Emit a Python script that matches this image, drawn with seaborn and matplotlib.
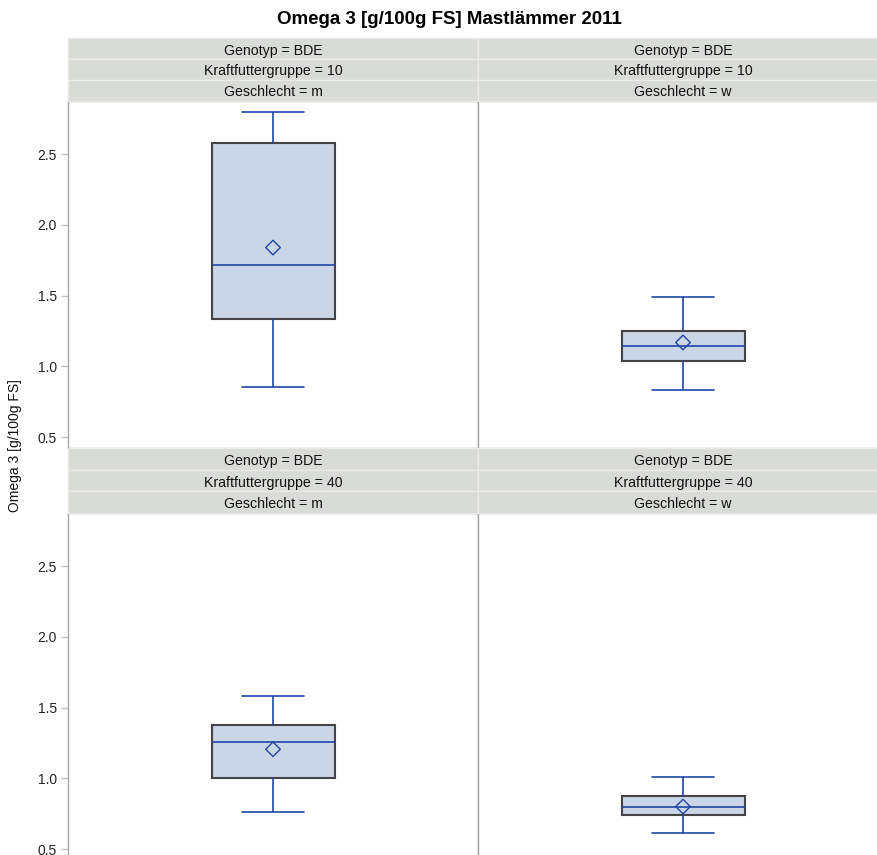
import numpy as np
import pandas as pd
import matplotlib
matplotlib.use("Agg")
import matplotlib.pyplot as plt
from matplotlib.patches import Rectangle
import seaborn as sns

# five number summary per group (min, Q1, median, Q3, max) + mean
gruppen = ["10", "10", "40", "40"]
geschlecht = ["m", "w", "m", "w"]
minimum = [0.85, 0.83, 0.76, 0.615]
q1 = [1.337, 1.035, 1.0, 0.74]
median = [1.718, 1.14, 1.257, 0.797]
q3 = [2.578, 1.248, 1.378, 0.875]
maximum = [2.797, 1.487, 1.578, 1.01]
mittel = [1.839, 1.168, 1.205, 0.80]

rows = []
for i in range(4):
    for v in (minimum[i], q1[i], median[i], q3[i], maximum[i]):
        rows.append({"Kraftfuttergruppe": gruppen[i], "Geschlecht": geschlecht[i], "Omega3": v})
df = pd.DataFrame(rows)

sns.set_style("white")
plt.rcParams['font.family'] = ['Liberation Sans', 'DejaVu Sans']

W, H = 877, 855
fig = plt.figure(figsize=(W / 100, H / 100), dpi=100)

blue = "#1F45A6"
boxfill = "#CAD5E5"
hdrfill = "#D9DBD6"
spinec = "#A5A5A5"

ylo, yhi = 0.4223, 2.8746
pw, ph = 410, 347
lefts = [68, 478]
tops = [101, 513]

def fx(px):
    return px / W

def fy(py):
    return 1 - py / H

for i in range(4):
    r, c = divmod(i, 2)
    x0, y0 = lefts[c], tops[r]
    ax = fig.add_axes([fx(x0), fy(y0 + ph), pw / W, ph / H])
    sub = df[(df.Kraftfuttergruppe == gruppen[i]) & (df.Geschlecht == geschlecht[i])]
    sns.boxplot(y=sub["Omega3"], ax=ax, whis=np.inf, width=0.3,
                color=boxfill, linecolor=blue, linewidth=1.2, saturation=1,
                boxprops=dict(facecolor=boxfill, edgecolor="#444444", linewidth=1.5),
                whiskerprops=dict(color=blue, linewidth=1.2),
                capprops=dict(color=blue, linewidth=1.2),
                medianprops=dict(color=blue, linewidth=1.2))
    sns.scatterplot(x=[0], y=[mittel[i]], ax=ax, marker="D", s=55,
                    facecolor="none", edgecolor=blue, linewidth=1.0, zorder=5)
    ax.set_xlim(-0.5, 0.5)
    ax.set_ylim(ylo, yhi)
    ax.set_yticks([0.5, 1.0, 1.5, 2.0, 2.5])
    ax.set_xticks([])
    ax.set_xlabel("")
    ax.set_ylabel("")
    for s in ax.spines.values():
        s.set_color(spinec)
        s.set_linewidth(1.0)
    if c == 0:
        ax.tick_params(axis="y", left=True, length=5, width=1, color="#C0C0C0",
                       labelsize=10, labelcolor="#222222", pad=3)
        ax.set_yticklabels(["0.5", "1.0", "1.5", "2.0", "2.5"])
    else:
        ax.tick_params(axis="y", left=False, labelleft=False)

    # header strips
    labels = ["Genotyp = BDE", "Kraftfuttergruppe = " + gruppen[i], "Geschlecht = " + geschlecht[i]]
    htop = 38 if r == 0 else 448
    hh = (y0 - htop) / 3
    for k, lab in enumerate(labels):
        yy = htop + k * hh
        fig.patches.append(Rectangle((fx(x0), fy(yy + hh)), pw / W, hh / H,
                                     transform=fig.transFigure, facecolor=hdrfill,
                                     edgecolor="#E9E9E7", linewidth=1.0, zorder=3))
        fig.text(fx(x0 + pw / 2), fy(yy + hh / 2 + 0.5), lab, ha="center",
                 va="center_baseline", fontsize=10.2, color="#111111", zorder=4)

fig.text(fx(449), fy(20), "Omega 3 [g/100g FS] Mastlämmer 2011", ha="center",
         va="center", fontsize=13.5, fontweight="bold", color="black")
fig.text(fx(15), fy(446), "Omega 3 [g/100g FS]", ha="center", va="center",
         rotation=90, fontsize=10, color="#111111")

fig.savefig("out.png", dpi=100)
